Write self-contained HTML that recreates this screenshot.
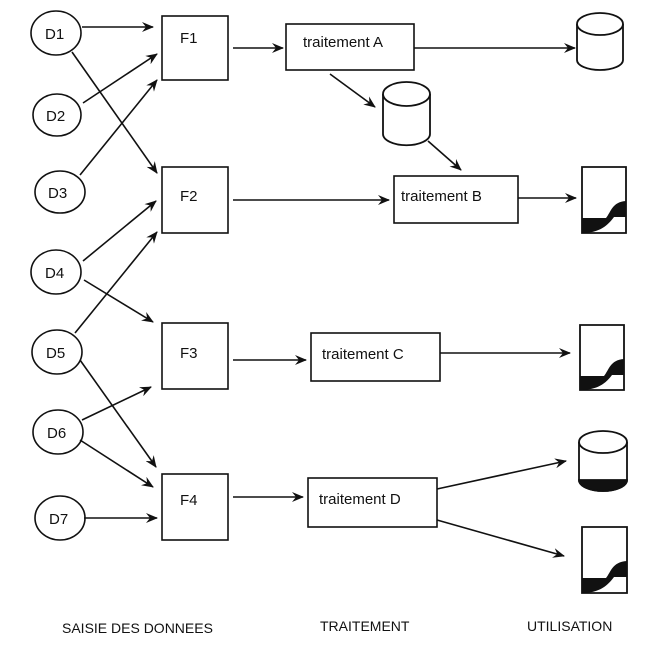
<!DOCTYPE html>
<html><head><meta charset="utf-8"><style>
html,body{margin:0;padding:0;background:#fff;}
svg{display:block;}
text{font-family:"Liberation Sans",sans-serif;fill:#111;}
</style></head><body>
<svg width="653" height="660" viewBox="0 0 653 660" xmlns="http://www.w3.org/2000/svg">
<defs>
<marker id="a" viewBox="0 0 12 10" refX="11" refY="5" markerWidth="12" markerHeight="10" markerUnits="userSpaceOnUse" orient="auto">
<path d="M0,0 L12,5 L0,10 L4,5 Z" fill="#111"/>
</marker>
</defs>
<g fill="#fff" stroke="#111" stroke-width="1.6">
<ellipse cx="56" cy="33" rx="25" ry="22"/>
<ellipse cx="57" cy="115" rx="24" ry="21"/>
<ellipse cx="60" cy="192" rx="25" ry="21"/>
<ellipse cx="56" cy="272" rx="25" ry="22"/>
<ellipse cx="57" cy="352" rx="25" ry="22"/>
<ellipse cx="58" cy="432" rx="25" ry="22"/>
<ellipse cx="60" cy="518" rx="25" ry="22"/>
<rect x="162" y="16" width="66" height="64"/>
<rect x="162" y="167" width="66" height="66"/>
<rect x="162" y="323" width="66" height="66"/>
<rect x="162" y="474" width="66" height="66"/>
<rect x="286" y="24" width="128" height="46"/>
<rect x="394" y="176" width="124" height="47"/>
<rect x="311" y="333" width="129" height="48"/>
<rect x="308" y="478" width="129" height="49"/>
</g>
<g font-size="15">
<text x="45" y="39">D1</text><text x="46" y="121">D2</text><text x="48" y="198">D3</text>
<text x="45" y="278">D4</text><text x="46" y="358">D5</text><text x="47" y="438">D6</text><text x="49" y="524">D7</text>
<text x="180" y="43">F1</text><text x="180" y="201">F2</text><text x="180" y="358">F3</text><text x="180" y="505">F4</text>
<text x="303" y="47">traitement A</text><text x="401" y="201">traitement B</text>
<text x="322" y="359">traitement C</text><text x="319" y="504">traitement D</text>
</g>
<g stroke="#111" stroke-width="1.6" marker-end="url(#a)">
<line x1="82" y1="27" x2="153" y2="27"/>
<line x1="72" y1="52" x2="157" y2="173"/>
<line x1="83" y1="103" x2="157" y2="54"/>
<line x1="80" y1="175" x2="157" y2="80"/>
<line x1="83" y1="261" x2="156" y2="201"/>
<line x1="84" y1="280" x2="153" y2="322"/>
<line x1="75" y1="333" x2="157" y2="232"/>
<line x1="80" y1="360" x2="156" y2="467"/>
<line x1="82" y1="420" x2="151" y2="387"/>
<line x1="80" y1="440" x2="153" y2="487"/>
<line x1="84" y1="518" x2="157" y2="518"/>
<line x1="233" y1="48" x2="283" y2="48"/>
<line x1="330" y1="74" x2="375" y2="107"/>
<line x1="428" y1="141" x2="461" y2="170"/>
<line x1="414" y1="48" x2="575" y2="48"/>
<line x1="233" y1="200" x2="389" y2="200"/>
<line x1="518" y1="198" x2="576" y2="198"/>
<line x1="233" y1="360" x2="306" y2="360"/>
<line x1="440" y1="353" x2="570" y2="353"/>
<line x1="233" y1="497" x2="303" y2="497"/>
<line x1="437" y1="489" x2="566" y2="461"/>
<line x1="437" y1="520" x2="564" y2="556"/>
</g>
<g stroke="#111" stroke-width="1.8" fill="#fff">
<path d="M577,24 V60 A23,10 0 0 0 623,60 V24"/>
<ellipse cx="600" cy="24" rx="23" ry="11"/>
<path d="M383,94 V134 A23,11 0 0 0 430,134 V94"/>
<ellipse cx="406.5" cy="94" rx="23.5" ry="12"/>
<path d="M579,442 V480 A24,11 0 0 0 627,480 V442"/>
<ellipse cx="603" cy="442" rx="24" ry="11"/>
<path d="M579,480 A24,11 0 0 0 627,480 Z" fill="#111"/>
<path d="M582,167 H626 V233 H582 Z"/>
<path d="M582,218 H606 C611,212 612,202 626,201 V217 H614 C608,225 600,233 582,233 Z" fill="#111" stroke="none"/>
<path d="M580,325 H624 V390 H580 Z"/>
<path d="M580,376 H604 C609,370 610,360 624,359 V375 H612 C606,383 598,390 580,390 Z" fill="#111" stroke="none"/>
<path d="M582,527 H627 V593 H582 Z"/>
<path d="M582,578 H606 C611,572 612,562 627,561 V577 H614 C608,585 600,593 582,593 Z" fill="#111" stroke="none"/>
</g>
<g font-size="14">
<text x="62" y="633">SAISIE DES DONNEES</text>
<text x="320" y="631">TRAITEMENT</text>
<text x="527" y="631">UTILISATION</text>
</g>
</svg>
</body></html>
